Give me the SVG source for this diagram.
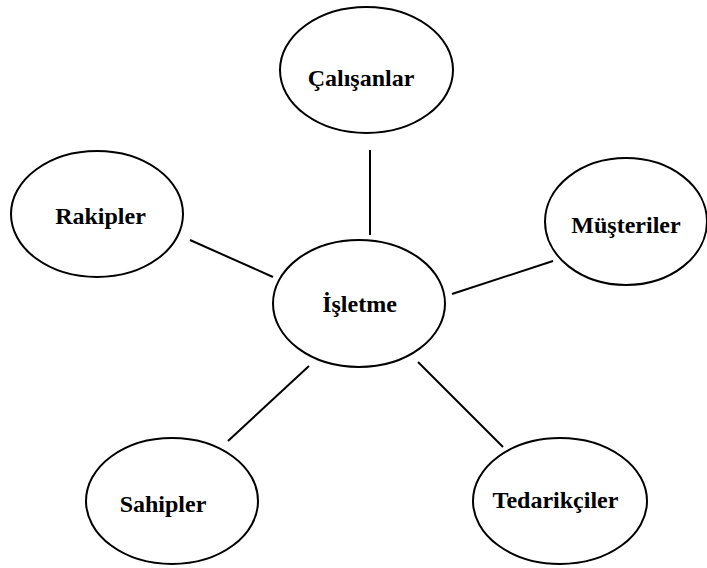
<svg xmlns="http://www.w3.org/2000/svg" width="707" height="568" viewBox="0 0 707 568">
<style>
.n ellipse{fill:#fff;stroke:#000;stroke-width:2}
.n text{font-family:"Liberation Serif","Times New Roman",serif;font-weight:bold;font-size:24px;text-anchor:middle;fill:#000}
#edges line{stroke:#000;stroke-width:2}
</style>
<rect width="707" height="568" fill="#fff"/>
<g id="edges">
<line x1="370" y1="150" x2="370" y2="235"/>
<line x1="190" y1="240" x2="273" y2="277"/>
<line x1="553" y1="261" x2="452" y2="294"/>
<line x1="309" y1="366" x2="228" y2="441"/>
<line x1="418" y1="362" x2="503" y2="447"/>
</g>
<g id="calisanlar" class="n"><ellipse cx="366.5" cy="70" rx="86.5" ry="63"/><text x="361" y="86">Çalışanlar</text></g>
<g id="rakipler" class="n"><ellipse cx="97" cy="214" rx="86" ry="63"/><text x="100.5" y="224">Rakipler</text></g>
<g id="musteriler" class="n"><ellipse cx="626" cy="221.5" rx="81" ry="63.5"/><text x="626" y="233">Müşteriler</text></g>
<g id="isletme" class="n"><ellipse cx="359" cy="303.5" rx="86" ry="63.5"/><text x="359.5" y="312">İşletme</text></g>
<g id="sahipler" class="n"><ellipse cx="172" cy="501" rx="86" ry="63"/><text x="163" y="512">Sahipler</text></g>
<g id="tedarikciler" class="n"><ellipse cx="560" cy="501" rx="87" ry="63"/><text x="555.5" y="508">Tedarikçiler</text></g>
</svg>
